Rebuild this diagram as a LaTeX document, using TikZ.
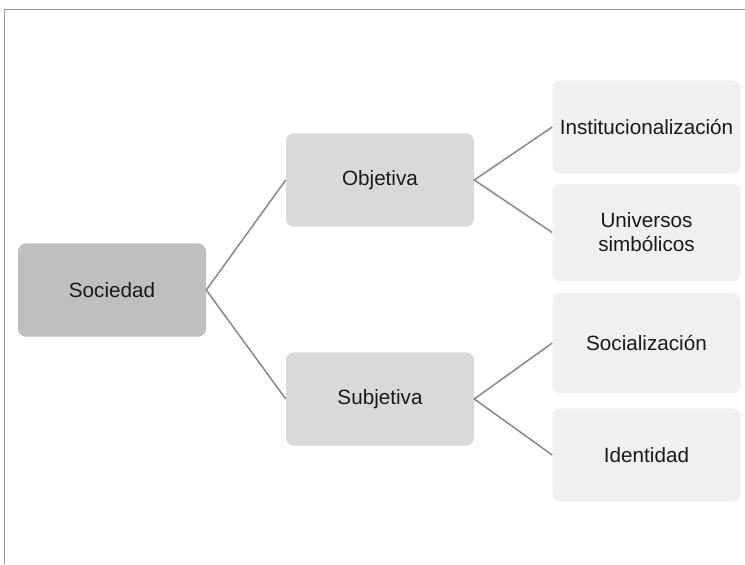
\documentclass[tikz,border=0pt]{standalone}
\usepackage{fontspec}
\setmainfont{Liberation Sans}
\begin{document}
\begin{tikzpicture}[x=0.75pt,y=-0.75pt,
  box/.style={rounded corners=6pt,minimum width=141pt,minimum height=70pt,
    align=center,font=\fontsize{15.5}{18}\selectfont,text=black!90,inner sep=0pt},
  root/.style={box,fill=gray!50!white},
  mid/.style={box,fill=gray!30!white},
  leaf/.style={box,fill=gray!12!white},
  link/.style={draw=gray!95!white,line width=1.1pt}]
\useasboundingbox (0,0) rectangle (745,564);
% outer frame (top and left edges)
\draw[gray!80,line width=1.2pt] (4.5,564) -- (4.5,9.5) -- (745,9.5);
% tree nodes
\node[root] (soc) at (112,290) {Sociedad};
\node[mid]  (obj) at (380,180) {Objetiva};
\node[mid]  (sub) at (380,399) {Subjetiva};
\node[leaf,minimum height=70pt] (ins) at (646.5,127) {Institucionalización};
\node[leaf,minimum height=73pt] (uni) at (646.5,232.5) {Universos\\simbólicos};
\node[leaf,minimum height=75pt] (sz)  at (646.5,343) {Socialización};
\node[leaf,minimum height=70pt] (ide) at (646.5,455) {Identidad};
% connectors
\draw[link] (obj.west) -- (soc.east) -- (sub.west);
\draw[link] (ins.west) -- (obj.east) -- (uni.west);
\draw[link] (sz.west) -- (sub.east) -- (ide.west);
\end{tikzpicture}
\end{document}
